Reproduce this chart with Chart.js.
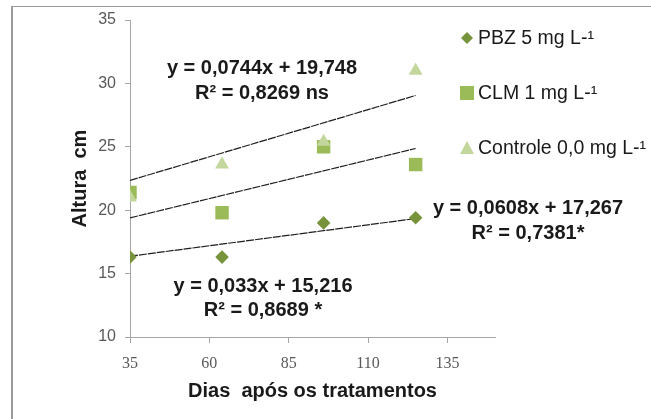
<!DOCTYPE html>
<html>
<head>
<meta charset="utf-8">
<style>
  html, body { margin: 0; padding: 0; background: #ffffff; }
  #wrap { width: 651px; height: 419px; position: relative; }
</style>
<script src="https://cdn.jsdelivr.net/npm/chart.js@4.4.1/dist/chart.umd.min.js"></script>
</head>
<body>
<div id="wrap"><canvas id="c" width="651" height="419"></canvas></div>
<script>
// Days after treatment and plant height (cm) per treatment
const days = [35, 64, 96, 125];
const pbzHeight = [16.3, 16.3, 19.0, 19.4];
const clmHeight = [21.4, 19.8, 25.0, 23.6];
const controlHeight = [21.0, 23.6, 25.4, 31.0];

const seriesNames = ['PBZ 5 mg L-\u00B9', 'CLM 1 mg L-\u00B9', 'Controle 0,0 mg L-\u00B9'];

// Linear fits: [slope, intercept]
const pbzFit = [0.033, 15.216];
const clmFit = [0.0608, 17.267];
const controlFit = [0.0744, 19.748];

const pbzEq = ['y = 0,033x + 15,216', 'R\u00B2 = 0,8689 *'];
const clmEq = ['y = 0,0608x + 17,267', 'R\u00B2 = 0,7381*'];
const controlEq = ['y = 0,0744x + 19,748', 'R\u00B2 = 0,8269 ns'];

const xTicks = [35, 60, 85, 110, 135];
const yTicks = [10, 15, 20, 25, 30, 35];

const colors = { pbz: '#77933C', clm: '#9BBB59', control: '#C3D69B' };
const axisGray = '#A6A6A6';

const toPoints = (ys) => days.map((d, i) => ({ x: d, y: ys[i] }));
const fitLine = (f) => {
  const x0 = days[0], x1 = days[days.length - 1];
  return [{ x: x0, y: f[0] * x0 + f[1] }, { x: x1, y: f[0] * x1 + f[1] }];
};

const trendStyle = {
  type: 'line', showLine: true, pointRadius: 0, borderColor: '#1e1e1e',
  borderWidth: 1.2, borderDash: [8, 1], fill: false, order: 5
};

// Frame, equation labels and the side legend
const decorations = {
  id: 'decorations',
  beforeDraw(chart) {
    const ctx = chart.ctx;
    ctx.save();
    ctx.fillStyle = '#ffffff';
    ctx.fillRect(0, 0, chart.width, chart.height);
    ctx.strokeStyle = '#9a9a9a';
    ctx.lineWidth = 1;
    ctx.beginPath();
    ctx.moveTo(11, 6.5); ctx.lineTo(chart.width, 6.5);
    ctx.stroke();
    ctx.lineWidth = 2;
    ctx.beginPath();
    ctx.moveTo(12, 6); ctx.lineTo(12, chart.height);
    ctx.stroke();
    ctx.restore();
  },
  afterDraw(chart) {
    const ctx = chart.ctx;
    ctx.save();
    ctx.fillStyle = '#1a1a1a';
    ctx.font = 'bold 20px "Liberation Sans", Arial, sans-serif';
    ctx.textAlign = 'center';
    ctx.textBaseline = 'middle';
    const eqs = [
      [controlEq, 262, 68, 93],
      [clmEq, 528, 208, 233],
      [pbzEq, 263, 286, 310]
    ];
    eqs.forEach(([lines, x, y1, y2]) => {
      ctx.fillText(lines[0], x, y1);
      ctx.fillText(lines[1], x, y2);
    });

    // legend
    const items = [
      { name: seriesNames[0], color: colors.pbz, shape: 'diamond', y: 38 },
      { name: seriesNames[1], color: colors.clm, shape: 'square', y: 93 },
      { name: seriesNames[2], color: colors.control, shape: 'triangle', y: 148 }
    ];
    ctx.font = '19.5px "Liberation Sans", Arial, sans-serif';
    ctx.textAlign = 'left';
    items.forEach(it => {
      const mx = 467;
      ctx.fillStyle = it.color;
      ctx.beginPath();
      if (it.shape === 'diamond') {
        ctx.moveTo(mx, it.y - 6); ctx.lineTo(mx + 6, it.y); ctx.lineTo(mx, it.y + 6); ctx.lineTo(mx - 6, it.y);
      } else if (it.shape === 'square') {
        ctx.rect(mx - 7, it.y - 7, 14, 14);
      } else {
        ctx.moveTo(mx, it.y - 7); ctx.lineTo(mx + 7, it.y + 6); ctx.lineTo(mx - 7, it.y + 6);
      }
      ctx.closePath();
      ctx.fill();
      ctx.fillStyle = '#1a1a1a';
      ctx.fillText(it.name, 478, it.y + 1);
    });
    ctx.restore();
  }
};

new Chart(document.getElementById('c'), {
  type: 'scatter',
  data: {
    datasets: [
      { label: seriesNames[2], data: toPoints(controlHeight), pointStyle: 'triangle', pointRadius: 8,
        backgroundColor: colors.control, borderColor: colors.control, borderWidth: 0, order: 0 },
      { label: seriesNames[1], data: toPoints(clmHeight), pointStyle: 'rect', pointRadius: 9.5,
        backgroundColor: colors.clm, borderColor: colors.clm, borderWidth: 0, order: 1 },
      { label: seriesNames[0], data: toPoints(pbzHeight), pointStyle: 'rectRot', pointRadius: 6.8,
        backgroundColor: colors.pbz, borderColor: colors.pbz, borderWidth: 0, order: 2 },
      Object.assign({ label: 'fit-control', data: fitLine(controlFit) }, trendStyle),
      Object.assign({ label: 'fit-clm', data: fitLine(clmFit) }, trendStyle),
      Object.assign({ label: 'fit-pbz', data: fitLine(pbzFit) }, trendStyle)
    ]
  },
  options: {
    responsive: false,
    animation: false,
    devicePixelRatio: 1,
    layout: { padding: { left: 0, top: 20, right: 156, bottom: 0 } },
    plugins: { legend: { display: false }, tooltip: { enabled: false } },
    scales: {
      x: {
        type: 'linear', min: 35, max: 150,
        afterBuildTicks: (s) => { s.ticks = xTicks.map(v => ({ value: v })); },
        afterFit: (s) => { s.height = 82; },
        grid: { drawOnChartArea: false, drawTicks: true, tickLength: 6, color: axisGray, tickColor: axisGray },
        border: { display: true, color: axisGray, width: 1 },
        ticks: { color: '#595959', padding: 11, maxRotation: 0,
                 font: { family: '"Liberation Serif", "Times New Roman", serif', size: 16 } },
        title: { display: true, text: 'Dias  após os tratamentos', color: '#1a1a1a',
                 padding: { top: 0, bottom: 16 },
                 font: { family: '"Liberation Sans", Arial, sans-serif', size: 20, weight: 'bold' } }
      },
      y: {
        type: 'linear', min: 10, max: 35,
        afterBuildTicks: (s) => { s.ticks = yTicks.map(v => ({ value: v })); },
        afterFit: (s) => { s.width = 130; },
        grid: { drawOnChartArea: false, drawTicks: true, tickLength: 5, color: axisGray, tickColor: axisGray },
        border: { display: true, color: axisGray, width: 1 },
        ticks: { color: '#595959', padding: 9,
                 font: { family: '"Liberation Sans", Arial, sans-serif', size: 16 } },
        title: { display: true, text: 'Altura  cm', color: '#1a1a1a',
                 padding: { top: 68, bottom: 0 },
                 font: { family: '"Liberation Sans", Arial, sans-serif', size: 20, weight: 'bold' } }
      }
    }
  },
  plugins: [decorations]
});
</script>
</body>
</html>
